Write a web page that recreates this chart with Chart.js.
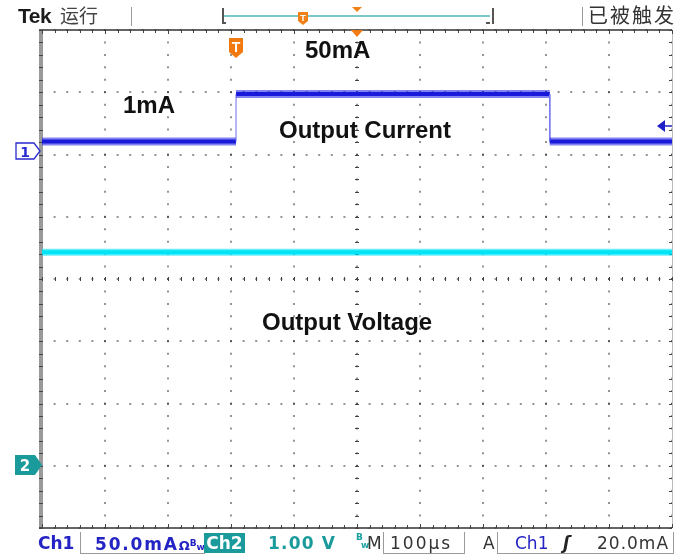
<!DOCTYPE html>
<html>
<head>
<meta charset="utf-8">
<script src="https://cdn.jsdelivr.net/npm/chart.js@4.4.1/dist/chart.umd.min.js"></script>
<style>
html, body { margin: 0; padding: 0; background: #fff; width: 690px; height: 558px; overflow: hidden; }
#wrap { position: relative; width: 690px; height: 558px; }
#scope { position: absolute; left: 0; top: 0; }
.t { position: absolute; white-space: nowrap; font-family: "Liberation Sans", Arial, sans-serif; }
.big { font-size: 24px; font-weight: bold; color: #111; line-height: 24px; }
.cjk { font-family: "Noto Sans CJK SC", sans-serif; color: #444; font-size: 19px; line-height: 20px; }
.bar { font-family: "DejaVu Sans", sans-serif; font-weight: bold; font-size: 17px; line-height: 20px; }
.box { position: absolute; border-color: #9a9a9a; border-style: solid; border-width: 0; }
svg { position: absolute; left: 0; top: 0; overflow: visible; }
</style>
</head>
<body>
<div id="wrap">
  <canvas id="scope" width="690" height="558"></canvas>

  <!-- top status line -->
  <div class="t" style="left:18px;top:5px;font-size:21px;font-weight:bold;color:#1a1a1a;line-height:22px;letter-spacing:-0.5px">Tek</div>
  <div class="t cjk" style="left:60px;top:5px">运行</div>
  <div class="box" style="left:131px;top:7px;height:19px;border-left-width:1px"></div>
  <div class="box" style="left:222px;top:8px;width:268px;height:16px;border-left-width:2px;border-right-width:2px;border-color:#555"></div>
  <div class="box" style="left:224px;top:15px;width:266px;height:0;border-top-width:2px;border-color:#7cc8c8"></div>
  <div class="box" style="left:222px;top:22px;width:4px;height:0;border-top-width:2px;border-color:#555"></div>
  <div class="box" style="left:486px;top:22px;width:4px;height:0;border-top-width:2px;border-color:#555"></div>
  <div class="box" style="left:582px;top:7px;height:19px;border-left-width:1px"></div>
  <div class="t cjk" style="left:588px;top:5px;font-size:20px;letter-spacing:2px;color:#333">已被触发</div>

  <!-- on-screen annotations -->
  <div class="t big" style="left:305px;top:38px">50mA</div>
  <div class="t big" style="left:123px;top:93px">1mA</div>
  <div class="t big" style="left:279px;top:118px">Output Current</div>
  <div class="t big" style="left:262px;top:310px">Output Voltage</div>

  <svg width="690" height="558">
    <!-- record position marker -->
    <path d="M298,12 h10 v9 l-5,4 l-5,-4 z" fill="#f08018"/>
    <text x="303" y="21" font-family="Liberation Sans" font-weight="bold" font-size="9" fill="#fff" text-anchor="middle">T</text>
    <path d="M352,7 h10 l-5,5 z" fill="#f08018"/>
    <!-- trigger position markers -->
    <path d="M229,38 h14 v14 l-7,6 l-7,-6 z" fill="#f07a10"/>
    <text x="236" y="52" font-family="Liberation Sans" font-weight="bold" font-size="14" fill="#fff" text-anchor="middle">T</text>
    <path d="M351,30 h12 l-6,7 z" fill="#f07a10"/>
    <!-- channel ground markers -->
    <path d="M16,143 h18 l6,8 l-6,8 h-18 z" fill="#fff" stroke="#2a2ad0" stroke-width="1.3"/>
    <text x="25" y="157" font-family="DejaVu Sans" font-weight="bold" font-size="14" fill="#2a2ad0" text-anchor="middle">1</text>
    <path d="M15,455 h20 l7,10 l-7,10 h-20 z" fill="#1a9a9a"/>
    <text x="25" y="471" font-family="DejaVu Sans" font-weight="bold" font-size="15" fill="#fff" text-anchor="middle">2</text>
    <!-- trigger level marker -->
    <path d="M657,126 l8,-6 v12 z" fill="#2020c8"/>
    <path d="M664,126 h8" stroke="#2020c8" stroke-width="1.5"/>
  </svg>

  <!-- bottom readout -->
  <div class="t bar" style="left:38px;top:533px;color:#2424c4">Ch1</div>
  <div class="box" style="left:80px;top:532px;width:124px;height:21px;border-left-width:1px;border-bottom-width:1px"></div>
  <div class="t bar" style="left:95px;top:533px;color:#2424c4;letter-spacing:1.8px">50.0mA<span style="font-size:13px;letter-spacing:0">Ω</span><span style="font-size:9px;letter-spacing:0;vertical-align:4px">B</span><span style="font-size:9px;letter-spacing:0">w</span></div>
  <div class="t bar" style="left:204px;top:533px;width:41px;height:20px;background:#1a9a9a;color:#fff;text-align:center">Ch2</div>
  <div class="t bar" style="left:268px;top:533px;color:#1a9a9a;letter-spacing:1.2px">1.00 V</div>
  <div class="t bar" style="left:356px;top:532px;color:#1aa0a0;font-size:9px;line-height:10px">B</div>
  <div class="t bar" style="left:361px;top:540px;color:#1aa0a0;font-size:9px;line-height:10px">w</div>
  <div class="t bar" style="left:367px;top:533px;color:#333;font-weight:normal">M</div>
  <div class="box" style="left:383px;top:532px;width:80px;height:21px;border-left-width:1px;border-right-width:1px;border-bottom-width:1px"></div>
  <div class="t bar" style="left:390px;top:533px;color:#333;font-weight:normal;letter-spacing:2px">100µs</div>
  <div class="t bar" style="left:483px;top:533px;color:#333;font-weight:normal">A</div>
  <div class="box" style="left:497px;top:532px;width:175px;height:21px;border-left-width:1px;border-right-width:1px;border-bottom-width:1px"></div>
  <div class="t bar" style="left:515px;top:533px;color:#2424c4;font-weight:normal">Ch1</div>
  <div class="t bar" style="left:563px;top:533px;color:#222;font-style:italic">ʃ</div>
  <div class="t bar" style="left:597px;top:533px;color:#333;font-weight:normal;letter-spacing:1px">20.0mA</div>
</div>

<script>
// time base: 100 us/div, 10 divisions
const timeUs = [0, 308, 308, 806, 806, 1000];
const ch1mA = [8, 8, 46, 46, 8, 8];
const ch2Time = [0, 1000];
const ch2V = [3.43, 3.43];

const ch1PerDiv = 50;   // mA/div
const ch1Zero = 6.05;   // ground marker, divisions above the bottom edge
const ch2PerDiv = 1;    // V/div
const ch2Zero = 1;

function pts(xs, ys) {
  return xs.map((x, i) => ({ x: x, y: ys[i] }));
}

const isStep = c => c.p0.parsed.x === c.p1.parsed.x;

const frame = {
  id: 'frame',
  beforeDatasetsDraw(chart) {
    const c = chart.ctx, a = chart.chartArea;
    const xs = chart.scales.x, ys = chart.scales.yDiv;
    c.save();
    // left bar
    c.fillStyle = '#9a9a9a';
    c.fillRect(a.left - 3, a.top, 4, a.bottom - a.top);
    c.strokeStyle = '#333';
    c.lineWidth = 1.5;
    c.beginPath();
    c.moveTo(a.left - 3, a.top); c.lineTo(a.right, a.top);
    c.moveTo(a.left - 3, a.bottom); c.lineTo(a.right, a.bottom);
    c.stroke();
    c.strokeStyle = '#bbb';
    c.lineWidth = 1;
    c.beginPath();
    c.moveTo(a.right + 0.5, a.top); c.lineTo(a.right + 0.5, a.bottom);
    c.stroke();
    // ruler ticks, 5 per division
    c.strokeStyle = '#444';
    c.lineWidth = 1;
    c.beginPath();
    for (let v = 0; v <= 1000; v += 20) {
      const p = Math.round(xs.getPixelForValue(v)) + 0.5;
      const len = v % 100 === 0 ? 4 : 3;
      c.moveTo(p, a.top); c.lineTo(p, a.top + len);
      c.moveTo(p, a.bottom); c.lineTo(p, a.bottom - len);
      const yc = ys.getPixelForValue(4);
      c.moveTo(p, yc - 2); c.lineTo(p, yc + 2);
    }
    for (let k = 0; k <= 40; k++) {
      const p = Math.round(ys.getPixelForValue(k / 5)) + 0.5;
      c.moveTo(a.left - 3, p); c.lineTo(a.left + 1, p);
      c.moveTo(a.right, p); c.lineTo(a.right - 3, p);
      const xc = xs.getPixelForValue(500);
      c.moveTo(xc - 2, p); c.lineTo(xc + 2, p);
    }
    c.stroke();
    c.restore();
  }
};

new Chart(document.getElementById('scope'), {
  type: 'line',
  data: {
    datasets: [
      {
        data: pts(ch2Time, ch2V), yAxisID: 'yV',
        borderColor: 'rgba(0,225,245,0.6)', borderWidth: 7
      },
      {
        data: pts(ch2Time, ch2V), yAxisID: 'yV',
        borderColor: '#00e8f4', borderWidth: 4
      },
      {
        data: pts(timeUs, ch1mA), yAxisID: 'yI',
        borderColor: 'rgba(30,30,225,0.55)', borderWidth: 8,
        segment: {
          borderWidth: c => isStep(c) ? 1 : 8,
          borderColor: c => isStep(c) ? 'rgba(120,120,240,0.6)' : undefined
        }
      },
      {
        data: pts(timeUs, ch1mA), yAxisID: 'yI',
        borderColor: '#1414d2', borderWidth: 4,
        segment: {
          borderWidth: c => isStep(c) ? 1 : 4,
          borderColor: c => isStep(c) ? 'rgba(140,140,245,0.8)' : undefined
        }
      }
    ]
  },
  options: {
    responsive: false,
    animation: false,
    events: [],
    layout: { padding: { left: 42, top: 30, right: 18, bottom: 30 } },
    elements: { point: { radius: 0 }, line: { tension: 0, borderCapStyle: 'butt' } },
    plugins: { legend: { display: false }, tooltip: { enabled: false } },
    scales: {
      x: {
        type: 'linear', min: 0, max: 1000,
        ticks: { display: false, stepSize: 100 },
        grid: { color: 'rgba(0,0,0,0.42)', lineWidth: 2, drawTicks: false },
        border: { display: false, dash: [2, 10.45], dashOffset: 1 }
      },
      yDiv: {
        type: 'linear', position: 'left', min: 0, max: 8,
        ticks: { display: false, stepSize: 1 },
        grid: { color: 'rgba(0,0,0,0.42)', lineWidth: 2, drawTicks: false },
        border: { display: false, dash: [2, 10.6], dashOffset: 1 }
      },
      yI: {
        display: false,
        min: -ch1Zero * ch1PerDiv, max: (8 - ch1Zero) * ch1PerDiv
      },
      yV: {
        display: false,
        min: -ch2Zero * ch2PerDiv, max: (8 - ch2Zero) * ch2PerDiv
      }
    }
  },
  plugins: [frame]
});
</script>
</body>
</html>
